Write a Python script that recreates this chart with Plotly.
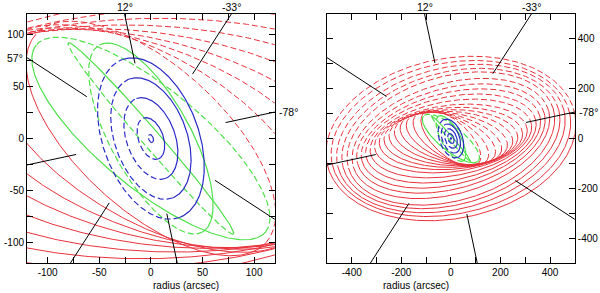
import numpy as np
import plotly.graph_objects as go

# ---- tilted-ring model, values ----
blue_radius = [4, 21, 41, 61, 81]
blue_pa = [20, 20, 20, 20, 20]
blue_inc = [55, 55, 55, 55, 55]

green_radius = [103, 122, 143]
green_pa = [29, 41, 51]
green_inc = [68, 86, 110]

red_radius = [150, 170, 190, 210, 230, 250, 270, 290, 310, 330, 350, 370, 390, 410, 430, 450, 470, 490, 510]
red_pa = [48, 60, 69, 76, 82, 87, 91, 94, 97, 100, 102, 104, 105, 106, 106, 105, 104, 102, 101]
red_inc = [117.8, 118.1, 117.6, 116.9, 116.3, 115.8, 115.4, 115.3, 115.6, 117.0,
           118.5, 119.8, 121.2, 122.8, 125.5, 126.2, 127.2, 128.2, 129.1]

spoke_pa = [12, -33, -78, 57]
spoke_labels = ["12°", "-33°", "-78°", "57°"]

left_range = 120
right_range = 500
left_spoke_start = 74
right_spoke_start = 310

RED = "#e8323c"
GREEN = "#4ee04a"
BLUE = "#2b2bc8"
FONT = "Liberation Sans, Arial, sans-serif"


def ring_half(r, pa, inc, near):
    th = np.linspace(0, np.pi, 240) + (0.0 if near else np.pi)
    p = np.radians(pa)
    c = np.cos(np.radians(inc))
    a = r * np.cos(th)
    b = r * c * np.sin(th)
    x = -a * np.sin(p) + b * np.cos(p)
    y = a * np.cos(p) + b * np.sin(p)
    return x, y


def group(radius, pa, inc, near):
    xs, ys = [], []
    for r, p, i in zip(radius, pa, inc):
        x, y = ring_half(r, p, i, near)
        xs += list(x) + [None]
        ys += list(y) + [None]
    return xs, ys


fig = go.Figure()
groups = [
    (red_radius, red_pa, red_inc, RED, 1.0),
    (green_radius, green_pa, green_inc, GREEN, 1.2),
    (blue_radius, blue_pa, blue_inc, BLUE, 1.2),
]

for k, (xa, ya) in enumerate([("x", "y"), ("x2", "y2")]):
    for radius, pa, inc, col, w in groups:
        for near in (True, False):
            x, y = group(radius, pa, inc, near)
            fig.add_trace(go.Scatter(
                x=x, y=y, mode="lines", xaxis=xa, yaxis=ya, showlegend=False,
                hoverinfo="skip",
                line=dict(color=col, width=w, dash="solid" if near else "6px,3px")))
    start = left_spoke_start if k == 0 else right_spoke_start
    L = left_range if k == 0 else right_range
    sx, sy = [], []
    for p in spoke_pa:
        for q in (p, p + 180):
            pr = np.radians(q)
            dx, dy = -np.sin(pr), np.cos(pr)
            sx += [start * dx, 4 * L * dx, None]
            sy += [start * dy, 4 * L * dy, None]
    fig.add_trace(go.Scatter(x=sx, y=sy, mode="lines", xaxis=xa, yaxis=ya,
                             showlegend=False, hoverinfo="skip",
                             line=dict(color="black", width=1)))
    # labels where spokes leave the frame
    for p, lab in zip(spoke_pa, spoke_labels):
        pr = np.radians(p)
        dx, dy = -np.sin(pr), np.cos(pr)
        t = L / max(abs(dx), abs(dy))
        ex, ey = t * dx, t * dy
        if abs(dy) >= abs(dx):
            kw = dict(xanchor="center", yanchor="bottom", yshift=-1)
        elif ex < 0:
            kw = dict(xanchor="right", yanchor="middle", xshift=-2)
        else:
            kw = dict(xanchor="left", yanchor="middle", xshift=2)
        fig.add_annotation(x=ex, y=ey, xref=xa, yref=ya, text=lab, showarrow=False,
                           font=dict(size=10.5, color="black", family=FONT), **kw)

axis_common = dict(showline=True, linecolor="black", linewidth=1, mirror="allticks",
                   ticks="inside", ticklen=6, tickwidth=1, tickcolor="black",
                   showgrid=False, zeroline=False,
                   tickfont=dict(size=10, family=FONT, color="black"))


def ticks(step, label_step, L):
    vals = [v for v in range(-L, L + 1) if v % step == 0]
    text = [str(v) if v % label_step == 0 else "" for v in vals]
    return vals, text


lv, lt = ticks(25, 50, left_range)
rv, rt = ticks(100, 200, right_range)

fig.update_layout(
    width=600, height=293, margin=dict(l=0, r=0, t=14, b=30),
    plot_bgcolor="white", paper_bgcolor="white",
    xaxis=dict(domain=[0.045, 0.458], range=[-left_range, left_range],
               tickmode="array", tickvals=lv, ticktext=lt, **axis_common),
    yaxis=dict(domain=[0, 1], range=[-left_range, left_range],
               tickmode="array", tickvals=lv, ticktext=lt, **axis_common),
    xaxis2=dict(domain=[0.545, 0.958], range=[-right_range, right_range], anchor="y2",
                tickmode="array", tickvals=rv, ticktext=rt, **axis_common),
    yaxis2=dict(domain=[0, 1], range=[-right_range, right_range], anchor="x2", side="right",
                tickmode="array", tickvals=rv, ticktext=rt, **axis_common),
)
for xc in (0.2515, 0.7515):
    fig.add_annotation(x=xc, y=0, xref="paper", yref="paper", yshift=-22, text="radius (arcsec)",
                       showarrow=False, yanchor="middle",
                       font=dict(size=10, color="black", family=FONT))

fig.write_html("out.html", config={"displayModeBar": False},
               post_script="document.body.style.margin='0px';")
